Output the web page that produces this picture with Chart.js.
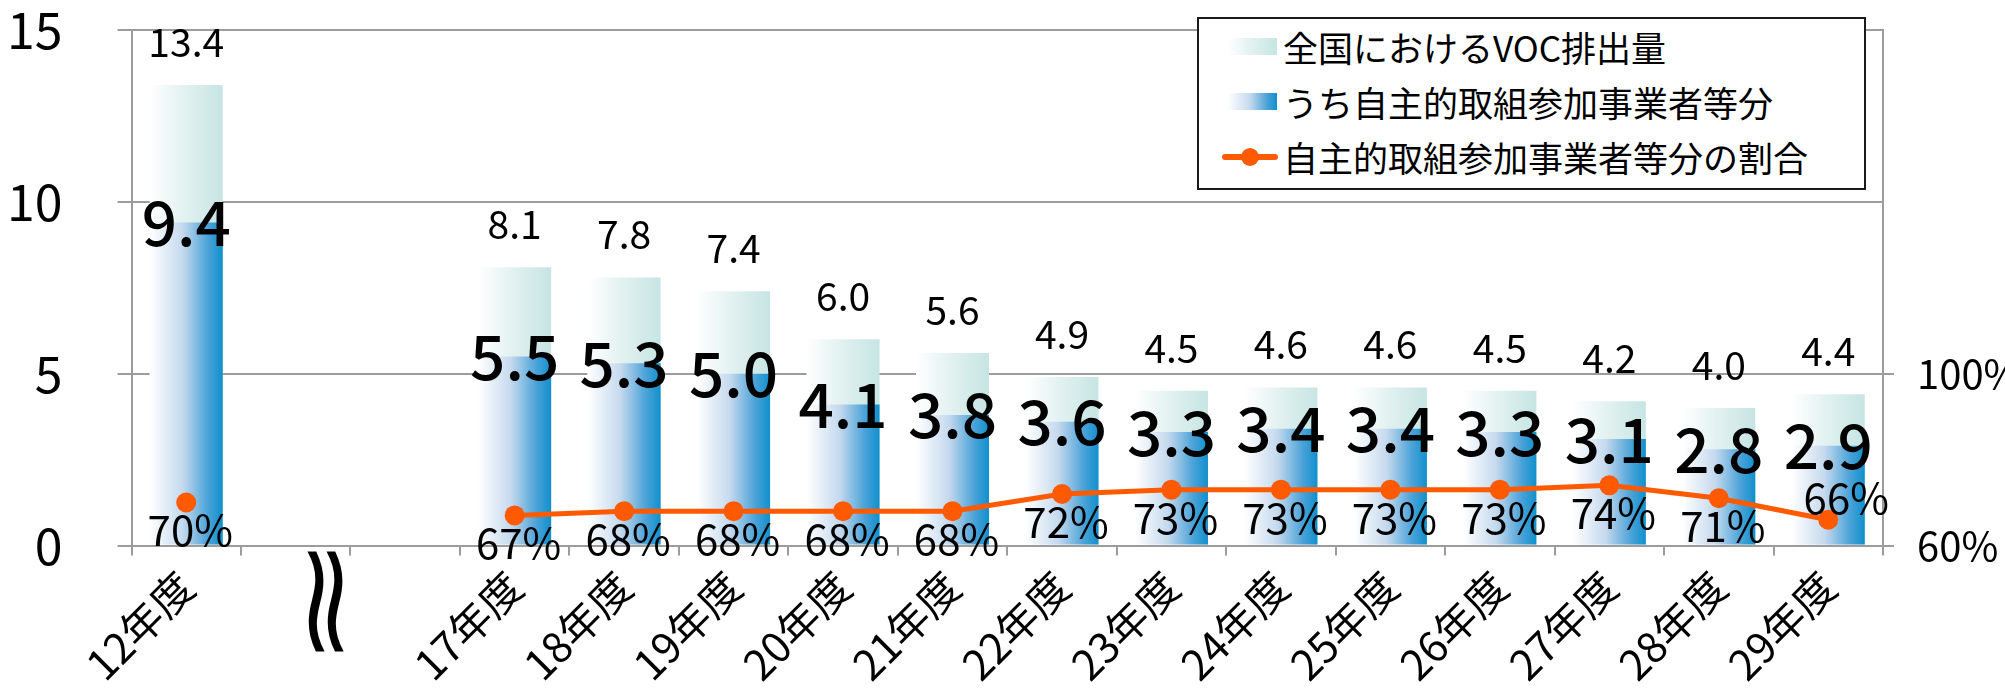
<!DOCTYPE html>
<html>
<head>
<meta charset="utf-8">
<script src="https://cdn.jsdelivr.net/npm/chart.js@4/dist/chart.umd.min.js"></script>
<style>
  html, body { margin: 0; padding: 0; background: #fff; }
  #wrap { position: relative; width: 2005px; height: 690px; }
  #chart { display: block; }
  #legend {
    position: absolute; left: 1197px; top: 17px; width: 665px; height: 169px;
    border: 2px solid #1a1a1a; background: #fff;
    font-family: "Noto Sans CJK JP", sans-serif; font-size: 35px; color: #000;
  }
  .row { position: absolute; left: 0; right: 0; height: 50px; }
  .row .txt { position: absolute; left: 84px; top: 0; height: 50px; line-height: 50px; white-space: nowrap; }
  .sw { position: absolute; left: 29px; top: 16px; width: 49px; height: 17px; }
  .sw.teal { background: linear-gradient(to right, #ffffff 0%, #e3f2f1 45%, #c6e5e3 100%); }
  .sw.blue { background: linear-gradient(to right, #ffffff 0%, #c5d9ee 45%, #4aa2d8 80%, #1090cd 100%); }
  .sw.line { left: 23px; top: 22px; width: 56px; height: 6px; background: #ff5a00; border-radius: 3px; }
  .dot { position: absolute; left: 42px; top: 16px; width: 18px; height: 18px; border-radius: 50%; background: #ff5a00; }
</style>
</head>
<body>
<div id="wrap">
  <canvas id="chart" width="2005" height="690"></canvas>
  <div id="legend"></div>
</div>
<script>
// ---- data ----
const categories = ['12年度', '', '', '17年度', '18年度', '19年度', '20年度', '21年度', '22年度', '23年度', '24年度', '25年度', '26年度', '27年度', '28年度', '29年度'];
const totalVOC = [13.4, null, null, 8.1, 7.8, 7.4, 6.0, 5.6, 4.9, 4.5, 4.6, 4.6, 4.5, 4.2, 4.0, 4.4];
const participants = [9.4, null, null, 5.5, 5.3, 5.0, 4.1, 3.8, 3.6, 3.3, 3.4, 3.4, 3.3, 3.1, 2.8, 2.9];
const shareOfParticipants = [70, null, null, 67, 68, 68, 68, 68, 72, 73, 73, 73, 73, 74, 71, 66];
const leftTicks = [0, 5, 10, 15];
const rightTicks = [60, 100];
const breakMark = '≈';
const seriesNames = ['全国におけるVOC排出量', 'うち自主的取組参加事業者等分', '自主的取組参加事業者等分の割合'];

// ---- styles ----
const FONT = '"Noto Sans CJK JP", "Noto Sans", sans-serif';
const GRID = '#9c9c9c';
const ORANGE = '#ff5a00';
const BAR_FRACTION = 0.667;
const tealStops = [[0, '#ffffff'], [0.45, '#e3f2f1'], [1, '#c6e5e3']];
const blueStops = [[0, '#ffffff'], [0.45, '#c5d9ee'], [0.8, '#4aa2d8'], [1, '#1090cd']];

function barGradient(stops) {
  return function (context) {
    const chart = context.chart;
    const xs = chart.scales.x;
    if (!chart.chartArea || !xs || context.type !== 'data') return stops[stops.length - 1][1];
    const cx = xs.getPixelForValue(context.dataIndex);
    const half = (xs.width / categories.length) * BAR_FRACTION / 2;
    const g = chart.ctx.createLinearGradient(cx - half, 0, cx + half, 0);
    stops.forEach(s => g.addColorStop(s[0], s[1]));
    return g;
  };
}

const valueLabels = {
  id: 'valueLabels',
  afterDatasetsDraw(chart) {
    const c = chart.ctx;
    const lineMeta = chart.getDatasetMeta(0);
    const partMeta = chart.getDatasetMeta(1);
    const totalMeta = chart.getDatasetMeta(2);
    c.save();
    c.fillStyle = '#000';
    c.textAlign = 'center';
    c.textBaseline = 'middle';
    c.font = '400 39px ' + FONT;
    totalMeta.data.forEach((bar, i) => {
      if (totalVOC[i] == null) return;
      c.fillText(totalVOC[i].toFixed(1), bar.x, bar.y - 43);
    });
    c.font = '500 62px ' + FONT;
    partMeta.data.forEach((bar, i) => {
      if (participants[i] == null) return;
      c.fillText(participants[i].toFixed(1), bar.x, bar.y);
    });
    c.font = '400 42px ' + FONT;
    let last = -1;
    shareOfParticipants.forEach((v, i) => { if (v != null) last = i; });
    lineMeta.data.forEach((pt, i) => {
      if (shareOfParticipants[i] == null) return;
      const above = i === last;
      c.fillText(shareOfParticipants[i] + '%', pt.x + (above ? 18 : 4), pt.y + (above ? -22 : 28));
    });
    c.restore();
  }
};

const breakLabel = {
  id: 'breakLabel',
  afterDraw(chart) {
    const xs = chart.scales.x;
    const c = chart.ctx;
    const x = (xs.getPixelForValue(1) + xs.getPixelForValue(2)) / 2 - 30;
    const y = xs.top + 56;
    c.save();
    c.translate(x, y);
    c.rotate(Math.PI / 2);
    c.scale(2.0, 1.25);
    c.fillStyle = '#000';
    c.textAlign = 'center';
    c.textBaseline = 'middle';
    c.font = '80px "DejaVu Sans", sans-serif';
    c.fillText(breakMark, 0, 0);
    c.restore();
  }
};

new Chart(document.getElementById('chart'), {
  data: {
    labels: categories,
    datasets: [
      {
        type: 'line', label: seriesNames[2], data: shareOfParticipants, yAxisID: 'y1',
        borderColor: ORANGE, backgroundColor: ORANGE, borderWidth: 5,
        pointRadius: 10, pointHoverRadius: 10, pointBorderWidth: 0,
        tension: 0, spanGaps: false, order: 0
      },
      {
        type: 'bar', label: seriesNames[1], data: participants, yAxisID: 'y',
        backgroundColor: barGradient(blueStops), borderWidth: 0,
        grouped: false, categoryPercentage: 1, barPercentage: BAR_FRACTION, order: 1
      },
      {
        type: 'bar', label: seriesNames[0], data: totalVOC, yAxisID: 'y',
        backgroundColor: barGradient(tealStops), borderWidth: 0,
        grouped: false, categoryPercentage: 1, barPercentage: BAR_FRACTION, order: 2
      }
    ]
  },
  options: {
    responsive: false,
    animation: false,
    events: [],
    layout: { padding: { top: 30, left: 0, right: 0, bottom: 0 } },
    plugins: { legend: { display: false }, tooltip: { enabled: false } },
    scales: {
      x: {
        offset: true,
        grid: { display: true, drawOnChartArea: false, drawTicks: true, tickLength: 10, color: GRID, lineWidth: 2, offset: true },
        border: { display: true, color: GRID, width: 2 },
        ticks: { autoSkip: false, maxRotation: 45, minRotation: 45, color: '#000', padding: 6, font: { family: FONT, size: 42 } },
        afterFit(s) { s.height = 144.5; s.paddingLeft = 0; s.paddingRight = 0; }
      },
      y: {
        position: 'left', min: 0, max: 15,
        afterBuildTicks(s) { s.ticks = leftTicks.map(v => ({ value: v })); },
        ticks: { color: '#000', padding: 55, font: { family: FONT, size: 50 } },
        grid: { color: GRID, lineWidth: 2, tickLength: 14, drawTicks: true },
        border: { display: true, color: GRID, width: 2 },
        afterFit(s) { s.width = 131.5; s.paddingTop = 0; s.paddingBottom = 0; }
      },
      y1: {
        position: 'right', min: 60, max: 180,
        afterBuildTicks(s) { s.ticks = rightTicks.map(v => ({ value: v })); },
        ticks: { color: '#000', padding: 23, font: { family: FONT, size: 40 }, callback: v => v + '%' },
        grid: { drawOnChartArea: false, color: GRID, lineWidth: 2, tickLength: 11, drawTicks: true },
        border: { display: true, color: GRID, width: 2 },
        afterFit(s) { s.width = 122; s.paddingTop = 0; s.paddingBottom = 0; }
      }
    }
  },
  plugins: [valueLabels, breakLabel]
});

// ---- legend (HTML) ----
const legend = document.getElementById('legend');
const swatchClass = ['teal', 'blue', 'line'];
const rowCenters = [28, 83, 138];
seriesNames.forEach((name, i) => {
  const row = document.createElement('div');
  row.className = 'row';
  row.style.top = (rowCenters[i] - 25) + 'px';
  const sw = document.createElement('div');
  sw.className = 'sw ' + swatchClass[i];
  row.appendChild(sw);
  if (swatchClass[i] === 'line') {
    const d = document.createElement('div');
    d.className = 'dot';
    row.appendChild(d);
  }
  const t = document.createElement('div');
  t.className = 'txt';
  t.textContent = name;
  row.appendChild(t);
  legend.appendChild(row);
});
</script>
</body>
</html>
